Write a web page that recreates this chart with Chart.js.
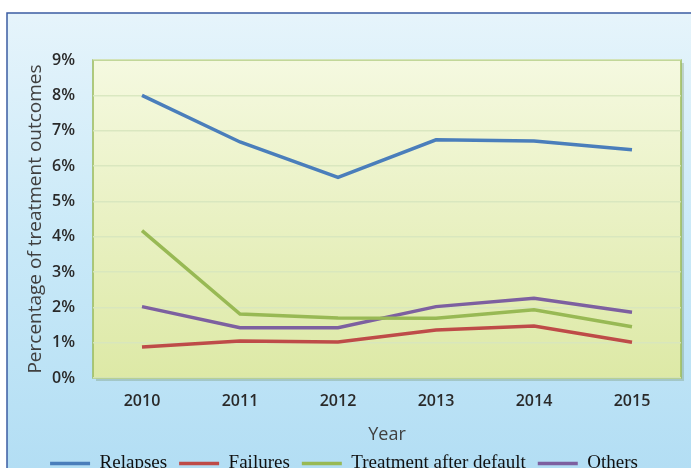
<!DOCTYPE html>
<html>
<head>
<meta charset="utf-8">
<script src="https://cdn.jsdelivr.net/npm/chart.js@4.4.0/dist/chart.umd.min.js"></script>
<style>
  body { margin: 0; background: #fff; }
  #wrap { width: 691px; height: 468px; }
</style>
</head>
<body>
<div id="wrap"><canvas id="myChart" width="691" height="468"></canvas></div>
<script>
var years = ['2010', '2011', '2012', '2013', '2014', '2015'];
var relapses = [8.0, 6.68, 5.68, 6.74, 6.71, 6.46];
var failures = [0.88, 1.05, 1.02, 1.36, 1.47, 1.01];
var afterDefault = [4.17, 1.81, 1.70, 1.69, 1.93, 1.45];
var others = [2.02, 1.42, 1.42, 2.02, 2.26, 1.86];

var yTicks = [0, 1, 2, 3, 4, 5, 6, 7, 8, 9];

// outer frame + plot area backgrounds (excel look)
var backdrop = {
  id: 'backdrop',
  beforeDraw: function(chart) {
    var c = chart.ctx;
    var g = c.createLinearGradient(0, 13, 0, 468);
    g.addColorStop(0, '#e6f4fb');
    g.addColorStop(0.5, '#c9e9f8');
    g.addColorStop(1, '#b3def4');
    c.save();
    c.fillStyle = g;
    c.fillRect(7, 13, 684, 455);
    c.strokeStyle = '#3b5ca3';
    c.lineWidth = 1.5;
    c.beginPath();
    c.moveTo(7, 468);
    c.lineTo(7, 13);
    c.lineTo(691, 13);
    c.stroke();

    var a = chart.chartArea;
    c.fillStyle = 'rgba(90,120,60,0.25)';
    c.fillRect(a.left + 3, a.top + 3, a.right - a.left, a.bottom - a.top);
    var pg = c.createLinearGradient(0, a.top, 0, a.bottom);
    pg.addColorStop(0, '#f5f9e0');
    pg.addColorStop(1, '#dde9a6');
    c.fillStyle = pg;
    c.fillRect(a.left, a.top, a.right - a.left, a.bottom - a.top);
    c.strokeStyle = '#9bbb59';
    c.lineWidth = 1.5;
    c.strokeRect(a.left, a.top, a.right - a.left, a.bottom - a.top);
    c.restore();
  }
};

var ctx = document.getElementById('myChart').getContext('2d');

function ds(label, values, color) {
  return {
    label: label,
    data: values,
    borderColor: color,
    backgroundColor: color,
    borderWidth: 3.5,
    pointRadius: 0,
    tension: 0,
    fill: false
  };
}

var chart = new Chart(ctx, {
  type: 'line',
  data: {
    labels: years,
    datasets: [
      ds('Relapses', relapses, '#4a7ebb'),
      ds('Failures', failures, '#be4b48'),
      ds('Treatment after default', afterDefault, '#98b954'),
      ds('Others', others, '#7d60a0')
    ]
  },
  options: {
    responsive: false,
    animation: false,
    layout: { padding: { left: 7, top: 60, right: 10, bottom: -15 } },
    plugins: {
      tooltip: { enabled: false },
      legend: {
        position: 'bottom',
        labels: {
          usePointStyle: true,
          pointStyle: 'line',
          pointStyleWidth: 40,
          padding: 12,
          color: '#111',
          font: { family: '"Liberation Serif", "Times New Roman", serif', size: 19 }
        }
      }
    },
    scales: {
      x: {
        offset: true,
        grid: { display: false, drawTicks: false },
        border: { display: false },
        ticks: {
          padding: 14,
          color: '#2a2a2a',
          font: { family: '"Open Sans", sans-serif', size: 16, weight: '600' }
        },
        title: {
          display: true,
          text: 'Year',
          color: '#404040',
          padding: { top: 4, bottom: -4 },
          font: { family: '"Open Sans", sans-serif', size: 18 }
        },
        afterFit: function(scale) { scale.height = 64; }
      },
      y: {
        min: 0,
        max: 9,
        afterBuildTicks: function(scale) {
          scale.ticks = yTicks.map(function(v) { return { value: v }; });
        },
        grid: { color: 'rgba(215,230,190,0.9)', lineWidth: 1.5, drawTicks: false },
        border: { display: false },
        ticks: {
          padding: 18,
          color: '#2a2a2a',
          font: { family: '"Open Sans", sans-serif', size: 16, weight: '600' },
          callback: function(v) { return v + '%'; }
        },
        title: {
          display: true,
          text: 'Percentage of treatment outcomes',
          color: '#404040',
          padding: { top: 17, bottom: 0 },
          font: { family: '"Open Sans", sans-serif', size: 19 }
        },
        afterFit: function(scale) { scale.width = 86; }
      }
    }
  },
  plugins: [backdrop]
});
</script>
</body>
</html>
